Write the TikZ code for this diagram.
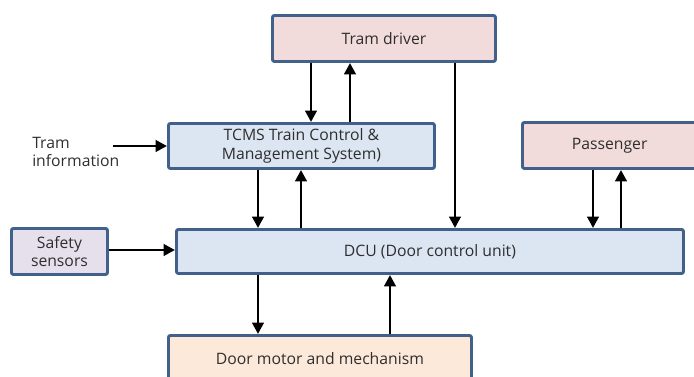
\documentclass[tikz,border=0pt]{standalone}
\usepackage{fontspec}
\setmainfont{Open Sans}
\usetikzlibrary{arrows.meta}
\definecolor{edgeblue}{HTML}{41618A}
\definecolor{txtgray}{HTML}{2E2E2E}
\definecolor{pinkfill}{HTML}{F2DCDB}
\definecolor{bluefill}{HTML}{DCE6F2}
\definecolor{lilacfill}{HTML}{E5E0EC}
\definecolor{peachfill}{HTML}{FDE9D9}
\tikzset{
  lbl/.style={font=\fontsize{11.8}{13.8}\selectfont, text=txtgray},
  blk/.style={lbl, draw=edgeblue, line width=2.2pt, rounded corners=1.5pt, inner sep=0pt, align=center},
  flow/.style={-{Triangle[length=8.5pt,width=8.5pt]}, line width=2.1pt, black},
}
\begin{document}
\begin{tikzpicture}[x=0.75pt,y=-0.75pt]
\useasboundingbox (0,0) rectangle (694,376);
\clip (0,0) rectangle (694,376);
% blocks, placed by their top left corners
\node[blk, fill=pinkfill, minimum width=223*0.75pt, minimum height=46*0.75pt, anchor=north west] (drv) at (271,14) {Tram driver};
\node[blk, fill=bluefill, minimum width=266*0.75pt, minimum height=45*0.75pt, anchor=north west] (tcms) at (167,122) {TCMS Train Control \&\\Management System)};
\node[blk, fill=pinkfill, minimum width=185*0.75pt, minimum height=46*0.75pt, anchor=north west] (pass) at (521,121) {\hspace*{-8pt}Passenger};
\node[blk, fill=lilacfill, minimum width=96*0.75pt, minimum height=46*0.75pt, anchor=north west] (safe) at (10,227) {Safety\\sensors};
\node[blk, fill=bluefill, minimum width=507*0.75pt, minimum height=44*0.75pt, anchor=north west] (dcu) at (175,228) {DCU (Door control unit)};
\node[blk, fill=peachfill, minimum width=303*0.75pt, minimum height=46*0.75pt, anchor=north west] (door) at (167,334) {Door motor and mechanism};
\node[lbl, align=left, anchor=west, inner sep=0pt] (info) at (32,152) {Tram\\information};
\coordinate (infoend) at (113,146);
% connectors
\draw[flow] (drv.south -| 311,0) -- (tcms.north -| 311,0);
\draw[flow] (tcms.north -| 350,0) -- (drv.south -| 350,0);
\draw[flow] (drv.south -| 455,0) -- (dcu.north -| 455,0);
\draw[flow] (infoend) -- (tcms.west |- infoend);
\draw[flow] (tcms.south -| 258,0) -- (dcu.north -| 258,0);
\draw[flow] (dcu.north -| 301,0) -- (tcms.south -| 301,0);
\draw[flow] (pass.south -| 593,0) -- (dcu.north -| 593,0);
\draw[flow] (dcu.north -| 621,0) -- (pass.south -| 621,0);
\draw[flow] (safe.east |- 0,250) -- (dcu.west |- 0,250);
\draw[flow] (dcu.south -| 258,0) -- (door.north -| 258,0);
\draw[flow] (door.north -| 390,0) -- (dcu.south -| 390,0);
\end{tikzpicture}
\end{document}
